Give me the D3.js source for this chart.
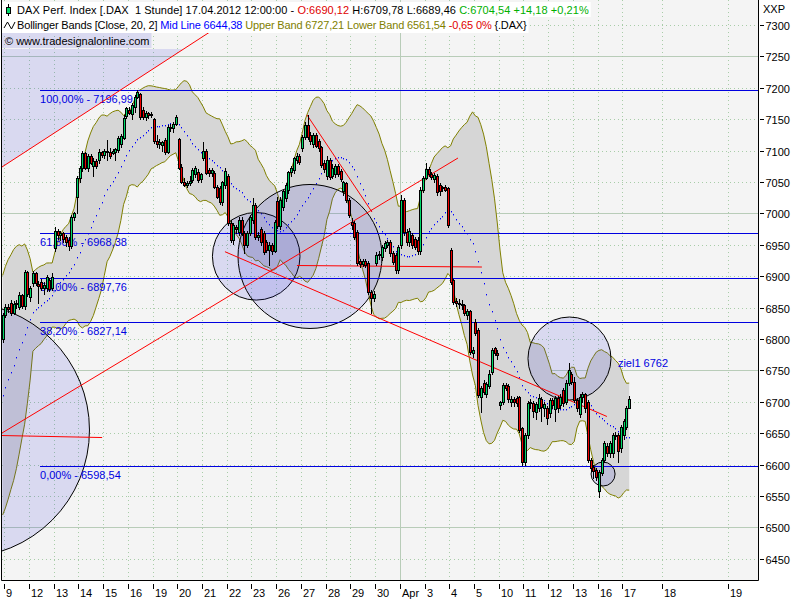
<!DOCTYPE html>
<html><head><meta charset="utf-8">
<script src="https://cdn.jsdelivr.net/npm/d3@7"></script>
<style>
body{margin:0;background:#fff}
svg{display:block}
text{font-family:"Liberation Sans",Arial,sans-serif;font-size:11px;white-space:pre}
</style></head>
<body><svg id="c" width="800" height="600"></svg>
<script>
// ---------- DATA ----------
const dayLabels = ['9','12','13','14','15','16','19','20','21','22','23','26','27','28','29','30','Apr','3','4','5','10','11','12','13','16','17'];
const futureLabels = ['18','19'];
const futureTickBars = [238.8, 262.8];
const barsPerDay = 9;
// closes before the first visible bar (only used to warm up the Bollinger bands)
const priorCloses = [6595,6600,6610,6625,6620,6615,6630,6640,6635,6650,6660,6800,6812,6820,6808,6815,6822,6810,6805];
// first element = last bar before 9 Mar, then 9 hourly bars per day, 3 bars on 17 Apr
const opens = [6800,
 6838,6851,6858,6842,6856,6851,6870,6852,6907,
 6867,6889,6905,6888,6891,6882,6881,6894,6881,
 6945,6972,6965,6968,6962,6958,6948,6995,7026,
 7056,7072,7096,7072,7091,7076,7084,7085,7098,
 7093,7100,7098,7096,7098,7101,7110,7120,7155,
 7165,7158,7170,7185,7190,7165,7153,7160,7157,
 7150,7116,7110,7109,7117,7098,7138,7136,7143,
 7118,7074,7050,7046,7048,7053,7062,7066,7055,
 7088,7099,7069,7064,7064,7042,7040,7018,7045,
 7060,6985,6958,6978,6970,6990,6969,6950,6969,
 6990,7013,6963,6975,6969,6955,6942,6950,6940,
 7020,6980,7010,7025,7037,7066,7069,7085,7092,
 7104,7122,7141,7125,7110,7125,7115,7106,7080,
 7060,7085,7060,7062,7075,7068,7035,7048,7021,
 6986,6985,6970,6924,6920,6924,6921,6875,6866,
 6921,6934,6931,6945,6950,6955,6937,6934,6910,
 6950,7022,6970,6955,6965,6960,6958,6940,7037,
 7057,7070,7063,7054,7060,7045,7040,7042,7040,
 6942,6894,6860,6858,6856,6854,6838,6845,6778,
 6827,6815,6708,6730,6712,6725,6747,6785,6778,
 6695,6700,6726,6725,6700,6705,6706,6708,6658,
 6604,6647,6698,6698,6683,6690,6705,6690,6690,
 6682,6703,6688,6706,6695,6718,6700,6730,6745,
 6732,6703,6680,6708,6712,6700,6607,6596,6591,
 6558,6587,6607,6630,6618,6618,6647,6647,6627,
 6647,6660,6690.12];
const highs = [6842,
 6856,6855,6862,6860,6862,6875,6872,6910,6908,
 6884,6908,6907,6893,6895,6890,6902,6897,6905,
 6978,6975,6972,6970,6966,6962,6998,7003,7060,
 7075,7100,7098,7094,7094,7088,7086,7102,7100,
 7103,7117,7104,7102,7104,7124,7126,7156,7170,
 7170,7176,7188,7196.99,7192,7170,7163,7162,7162,
 7152,7125,7118,7116,7120,7140,7142,7145,7156,
 7120,7078,7056,7052,7060,7072,7075,7070,7065,
 7114,7102,7072,7072,7068,7046,7044,7052,7072,
 7062,6990,6985,6982,6995,6994,6972,6972,6998,
 7024,7016,6970,6978,6972,6958,6954,6953,6990,
 7026,7026,7038,7048,7068,7075,7090,7096,7095,
 7125,7146,7157,7130,7128,7128,7118,7108,7085,
 7092,7088,7078,7078,7078,7070,7052,7050,7024,
 6993,6988,6974,6928,6928,6927,6924,6878,6876,
 6938,6940,6950,6956,6958,6958,6940,6937,6950,
 7030,7025,6975,6976,6968,6963,6962,7042,7060,
 7080,7074,7066,7064,7062,7048,7044,7046,7042,
 6945,6896,6866,6864,6862,6856,6848,6846,6788,
 6832,6818,6725,6734,6732,6750,6786,6788,6782,
 6702,6730,6730,6728,6710,6708,6710,6710,6660,
 6650,6702,6705,6702,6700,6712,6708,6700,6694,
 6706,6706,6710,6710,6712,6722,6734,6762,6748,
 6740,6706,6712,6716,6714,6703,6610,6600,6594,
 6592,6610,6637,6634,6637,6650,6652,6650,6663,
 6672,6694,6709.78];
const lows = [6796,
 6835,6843,6838,6840,6850,6848,6850,6848,6868,
 6860,6885,6886,6857,6878,6872,6876,6876,6878,
 6940,6960,6958,6955,6948,6942,6945,6990,7000,
 7050,7068,7070,7068,7078,7060,7072,7080,7090,
 7088,7085,7089,7094,7085,7098,7106,7118,7152,
 7158,7150,7162,7183,7150,7150,7148,7152,7154,
 7112,7105,7104,7100,7095,7096,7132,7130,7140,
 7070,7048,7044,7042,7045,7050,7058,7050,7050,
 7085,7062,7060,7060,7040,7024,7015,7014,7040,
 6982,6955,6952,6968,6965,6965,6937,6946,6966,
 6985,6960,6958,6950,6936,6938,6918,6935,6938,
 6976,6975,7005,7020,7033,7060,7065,7080,7078,
 7100,7118,7118,7110,7106,7105,7100,7074,7066,
 7055,7055,7056,7058,7060,7052,7030,7018,6994,
 6975,6960,6918,6915,6916,6914,6872,6841,6860,
 6918,6928,6926,6940,6946,6932,6920,6905,6905,
 6945,6965,6950,6948,6945,6944,6936,6936,7034,
 7055,7060,7055,7050,7030,7030,7036,7036,6978,
 6888,6855,6852,6850,6848,6838,6832,6776,6772,
 6806,6708,6684,6712,6708,6722,6744,6775,6768,
 6688,6696,6718,6700,6694,6694,6694,6652,6600,
 6600,6642,6690,6676,6672,6686,6670,6678,6664,
 6676,6690,6670,6684,6690,6694,6696,6726,6728,
 6700,6686,6676,6700,6684,6604,6590,6578,6576,
 6548,6584,6604,6614,6612,6612,6640,6604,6620,
 6640,6656,6689.46];
const closes = [6838,
 6851,6847,6841,6856,6858,6870,6852,6907,6872,
 6881,6905,6889,6885,6881,6886,6898,6880,6898,
 6972,6965,6968,6960,6955,6948,6995,7000,7056,
 7072,7096,7072,7091,7080,7084,7076,7098,7093,
 7100,7098,7092,7100,7102,7120,7123,7152,7168,
 7160,7173,7185,7194,7153,7153,7160,7157,7158,
 7116,7110,7114,7114,7098,7138,7136,7143,7153,
 7072,7050,7046,7048,7051,7069,7072,7053,7062,
 7100,7064,7064,7069,7042,7026,7018,7050,7068,
 6985,6958,6982,6975,6990,6969,6950,6969,6994,
 7013,6963,6966,6954,6939,6942,6950,6940,6987,
 6980,7022,7035,7045,7066,7072,7088,7092,7082,
 7122,7141,7122,7115,7125,7108,7104,7077,7070,
 7085,7058,7072,7075,7062,7055,7050,7021,6997,
 6982,6962,6921,6920,6924,6918,6875,6865,6872,
 6934,6936,6947,6953,6955,6937,6922,6910,6947,
 7022,6970,6955,6972,6950,6947,6940,7037,7057,
 7070,7063,7058,7061,7034,7035,7042,7038,6981,
 6891,6859,6858,6856,6854,6841,6845,6780,6783,
 6810,6711,6722,6715,6728,6745,6782,6778,6775,
 6700,6727,6722,6705,6705,6700,6698,6655,6604,
 6647,6698,6700,6685,6697,6706,6692,6697,6674,
 6703,6695,6706,6690,6708,6698,6730,6751,6732,
 6703,6690,6708,6712,6690,6607,6595,6590,6580,
 6588,6607,6634,6618,6634,6647,6645,6622,6660,
 6670,6690,6704.54];
const priceTicks = d3.range(6450, 7301, 50);
const fibPct = ['100,00%','61,80%','50,00%','38,20%','0,00%'];
const fibValues = [7196.99, 6968.38, 6897.76, 6827.14, 6598.54];
const fibStartBar = 12.6;
// user drawings in (bar, price) coordinates
const circleCenters = [[-15.8,6655.1],[91.27,6931.7],[110.85,6931.4],[205.27,6768.9],[217.5,6585.0]];
const circleRadiiPx = [127.5,43.8,72,41.5,12];
const redLines = [
  [[-1.24,7073.9],[75.5,7292.0]],
  [[-1.24,6650.3],[164.7,7088.2]],
  [[-1.24,6646.3],[35.2,6643.1]],
  [[79.9,6939.0],[218.9,6676.6]],
  [[109.75,7156.7],[133.4,7002.2]],
  [[106.1,6917.0],[173.4,6914.6]]
];
const targetLabel = {bar:222.9, price:6762, text:'ziel1 6762'};
const header1 = [['DAX Perf. Index [.DAX  1 Stunde] 17.04.2012 12:00:00 - ','#000'],['O:6690,12','#e00000'],[' H:6709,78 L:6689,46 ','#000'],['C:6704,54 +14,18 +0,21%','#00b000']];
const header2 = [['Bollinger Bands [Close, 20, 2] ','#000'],['Mid Line 6644,38','#0000ff'],[' Upper Band 6727,21 Lower Band 6561,54','#808000'],[' -0,65 0%','#e00000'],[' {.DAX}','#000']];
const header3 = '\u00a9 www.tradesignalonline.com';

// ---------- SCALES ----------
const svg = d3.select('#c');
const P = {l:2, r:758, t:0, b:580};
const x = d3.scaleLinear().domain([0,225]).range([5.4,623.7]);
const y = d3.scaleLinear().domain([6450,7300]).range([558.8,25]);
const bars = closes.map((c,k)=>({i:k-1,o:opens[k],h:highs[k],l:lows[k],c:c}));
const tickBars = dayLabels.map((d,n)=>n*barsPerDay-0.47).concat(futureTickBars);
const tickLabels = dayLabels.concat(futureLabels);

// bollinger
const all = priorCloses.concat(closes);
const off = priorCloses.length;
const band = closes.map((c,k)=>{
  const w = all.slice(off+k-19, off+k+1);
  const m = d3.mean(w);
  const sd = Math.sqrt(d3.mean(w, v=>(v-m)*(v-m)));
  return {i:k-1, m:m, u:m+2*sd, lo:m-2*sd};
});

// ---------- BACKGROUND ----------
svg.append('rect').attr('width',800).attr('height',600).attr('fill','#fff');
svg.append('rect').attr('x',P.l).attr('y',P.t).attr('width',P.r-P.l).attr('height',P.b-P.t).attr('fill','#f4f4f4');
const defs = svg.append('defs');
defs.append('clipPath').attr('id','pc').append('rect').attr('x',P.l).attr('y',P.t).attr('width',P.r-P.l).attr('height',P.b-P.t);
const g = svg.append('g').attr('clip-path','url(#pc)');

// grid
priceTicks.forEach(v=>{
  const yy = Math.round(y(v))+0.5;
  const solid = v%250===0;
  g.append('line').attr('x1',P.l).attr('x2',P.r).attr('y1',yy).attr('y2',yy)
   .attr('stroke', solid?'#b8ccb8':'#a8cca8').attr('stroke-dasharray', solid?null:'1,3');
});
tickBars.forEach((b,n)=>{
  const xx = Math.round(x(b))+0.5;
  const solid = tickLabels[n]==='Apr';
  g.append('line').attr('x1',xx).attr('x2',xx).attr('y1',P.t).attr('y2',P.b)
   .attr('stroke', solid?'#b8ccb8':'#a8cca8').attr('stroke-dasharray', solid?null:'1,3');
});

// top-left shaded region (bounded by the first red line)
const l0 = redLines[0];
const slope0 = (y(l0[1][1])-y(l0[0][1]))/(x(l0[1][0])-x(l0[0][0]));
const yTop = 49;
const xAtTop = x(l0[0][0]) + (yTop - y(l0[0][1]))/slope0;
g.append('path').attr('d',`M${P.l},${yTop}L${xAtTop},${yTop}L${x(l0[0][0])},${y(l0[0][1])}L${P.l},${y(l0[0][1])}Z`)
 .attr('fill','rgba(40,40,220,0.13)');

// bands
g.append('path').datum(band).attr('fill','#d6d6d6')
 .attr('d', d3.area().x(d=>x(d.i)).y0(d=>y(d.lo)).y1(d=>y(d.u)));
['u','lo'].forEach(k=>{
  g.append('path').datum(band).attr('fill','none').attr('stroke','#808000').attr('stroke-width',1)
   .attr('d', d3.line().x(d=>x(d.i)).y(d=>y(d[k])));
});
g.selectAll('rect.mid').data(band).enter().append('rect')
 .attr('x',d=>Math.round(x(d.i))).attr('y',d=>Math.round(y(d.m))).attr('width',1).attr('height',1.4).attr('fill','#0000ff');

// circles
g.selectAll('circle.dr').data(circleCenters).enter().append('circle')
 .attr('cx',d=>x(d[0])).attr('cy',d=>y(d[1])).attr('r',(d,n)=>circleRadiiPx[n])
 .attr('fill','rgba(40,40,220,0.13)').attr('stroke','#000').attr('stroke-width',1);

// fibonacci
fibValues.forEach((v,n)=>{
  const yy = Math.round(y(v))+0.5;
  g.append('line').attr('x1',x(fibStartBar)).attr('x2',P.r).attr('y1',yy).attr('y2',yy).attr('stroke','#0000e0');
  g.append('text').attr('x',x(fibStartBar)).attr('y',yy+12).attr('fill','#0000e0')
   .text(fibPct[n]+' - '+d3.format('.2f')(v).replace('.',','));
});

// red lines
redLines.forEach(l=>{
  g.append('line').attr('x1',x(l[0][0])).attr('y1',y(l[0][1])).attr('x2',x(l[1][0])).attr('y2',y(l[1][1]))
   .attr('stroke','#ff0000').attr('stroke-width',1);
});
g.append('text').attr('x',x(targetLabel.bar)).attr('y',y(targetLabel.price)+4).attr('fill','#0000e0').text(targetLabel.text);

// candles
const cg = g.append('g');
bars.forEach(b=>{
  const cx = Math.round(x(b.i));
  cg.append('line').attr('x1',cx+0.5).attr('x2',cx+0.5).attr('y1',Math.round(y(b.h))).attr('y2',Math.round(y(b.l))+1).attr('stroke','#000');
  const top = Math.round(y(Math.max(b.o,b.c))), bot = Math.round(y(Math.min(b.o,b.c)));
  cg.append('rect').attr('x',cx-0.5).attr('y',top+0.5).attr('width',2).attr('height',Math.max(1,bot-top))
   .attr('fill', b.c>=b.o ? '#00d868' : '#f00000').attr('stroke','#000');
});

// frame
svg.append('path').attr('d',`M${P.l-0.5},${P.t}V${P.b+0.5}H${P.r+0.5}V${P.t}`).attr('fill','none').attr('stroke','#000');

// right axis
priceTicks.forEach(v=>{
  const yy = Math.round(y(v))+0.5;
  svg.append('line').attr('x1',760).attr('x2',764).attr('y1',yy).attr('y2',yy).attr('stroke','#000');
  svg.append('text').attr('x',765.5).attr('y',yy+4).text(v);
});
svg.append('text').attr('x',763).attr('y',13).text('XXP');

// bottom axis
tickBars.forEach((b,n)=>{
  const xx = Math.round(x(b))+0.5;
  svg.append('line').attr('x1',xx).attr('x2',xx).attr('y1',584).attr('y2',589).attr('stroke','#000');
  svg.append('text').attr('x',xx+1.5).attr('y',597).text(tickLabels[n]);
});

// header
function headerRow(parts, tx, ty, boxY, boxH, fill, ls){
  const r = svg.append('rect').attr('x',P.l).attr('y',boxY).attr('height',boxH).attr('fill',fill);
  const t = svg.append('text').attr('x',tx).attr('y',ty).style('letter-spacing',ls+'px');
  parts.forEach(p=>t.append('tspan').attr('fill',p[1]).text(p[0]));
  r.attr('width', tx + t.node().getComputedTextLength() + 2 - P.l);
}
headerRow(header1, 17, 14, 2, 15, '#fff', 0.05);
headerRow(header2, 17, 29, 17, 16, '#fff', -0.15);
headerRow([[header3,'#000']], 5, 45, 33, 15, 'rgba(40,40,220,0.13)', 0);
// icons
svg.append('line').attr('x1',8.5).attr('x2',8.5).attr('y1',4).attr('y2',16).attr('stroke','#000');
svg.append('rect').attr('x',6.5).attr('y',7.5).attr('width',4).attr('height',6).attr('fill','#00d868').attr('stroke','#000');
svg.append('path').attr('d','M4,28L7.5,22L11.5,29L15,22').attr('fill','none').attr('stroke','#000');
</script>
</body></html>
